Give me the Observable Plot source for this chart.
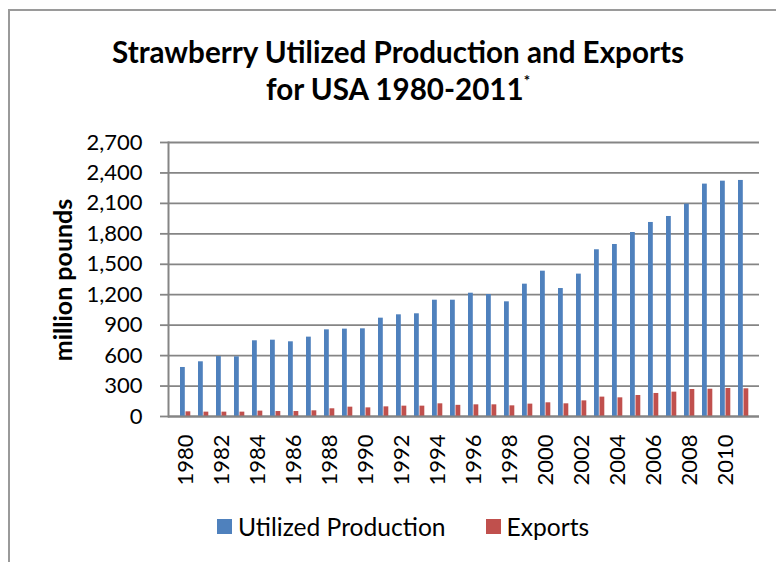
<!DOCTYPE html>
<html>
<head>
<meta charset="utf-8">
<script src="https://cdn.jsdelivr.net/npm/d3@7"></script>
<script src="https://cdn.jsdelivr.net/npm/@observablehq/plot@0.6"></script>
<style>
  html, body { margin: 0; padding: 0; background: #fff; }
  #wrap { position: relative; width: 776px; height: 562px; overflow: hidden; font-family: Lato, "Open Sans", sans-serif; }
  #border { position: absolute; left: 8px; top: 9px; width: 800px; height: 600px; border: 2px solid #9a9a9a; box-sizing: border-box; }
  #title { position: absolute; left: 0; width: 796px; top: 33px; text-align: center; font-weight: bold; font-size: 29.6px; line-height: 37px; color: #000; }
  #title sup { font-size: 15px; vertical-align: top; position: relative; top: -8px; }
  #chart { position: absolute; left: 0; top: 0; }
  #ylabel { position: absolute; left: 62px; top: 280px; transform: translate(-50%, -50%) rotate(-90deg); font-weight: bold; font-size: 25px; white-space: nowrap; }
  #legend { position: absolute; top: 512px; left: 217px; font-size: 24.6px; display: flex; align-items: center; white-space: nowrap; }
  .sw { display: inline-block; width: 15px; height: 15px; margin-right: 6px; }
  .item { display: flex; align-items: center; }
</style>
</head>
<body>
<div id="wrap">
  <div id="border"></div>
  <div id="chart"></div>
  <div id="title">Strawberry Utilized Production and Exports<br>for USA 1980-2011<sup>*</sup></div>
  <div id="ylabel">million pounds</div>
  <div id="legend"></div>
</div>
<script>
const years = [1980,1981,1982,1983,1984,1985,1986,1987,1988,1989,1990,1991,1992,1993,1994,1995,
               1996,1997,1998,1999,2000,2001,2002,2003,2004,2005,2006,2007,2008,2009,2010,2011];
const production = [483,539,591,588,746,752,736,782,854,861,864,969,1002,1012,1146,1146,
                    1215,1202,1130,1304,1432,1261,1403,1643,1695,1813,1912,1971,2093,2290,2319,2326];
const exportsVals = [46,43,43,43,53,49,49,56,76,92,85,95,102,102,125,110,
                     115,115,105,122,135,125,154,191,184,207,227,240,266,269,276,273];
const seriesNames = ["Utilized Production", "Exports"];
const seriesColors = ["#4F81BD", "#C0504D"];
const yTicks = [0,300,600,900,1200,1500,1800,2100,2400,2700];
const xTickLabels = years.filter(y => y % 2 === 0);

const prodData = years.map((y, i) => ({year: y, value: production[i]}));
const expData = years.map((y, i) => ({year: y, value: exportsVals[i]}));

const gridColor = "#858585";

const chart = Plot.plot({
  width: 776,
  height: 562,
  marginLeft: 168,
  marginRight: 17,
  marginTop: 142,
  marginBottom: 146,
  style: {fontFamily: "Lato, 'Open Sans', sans-serif", fontSize: "22px", color: "#000", background: "transparent"},
  x: {type: "band", domain: years, padding: 0},
  y: {domain: [0, 2700]},
  marks: [
    Plot.gridY(yTicks, {stroke: gridColor, strokeOpacity: 1, strokeWidth: 1.8}),
    Plot.barY(prodData, {x: "year", y: "value", fill: seriesColors[0], insetLeft: 4, insetRight: 9.2}),
    Plot.barY(expData, {x: "year", y: "value", fill: seriesColors[1], insetLeft: 9.5, insetRight: 3.7}),
    Plot.ruleY([0], {stroke: gridColor, strokeWidth: 2}),
    Plot.frame({anchor: "left", stroke: gridColor, strokeWidth: 2}),
    Plot.axisY(yTicks, {tickFormat: d => d3.format(",")(d), tickSize: 8, tickPadding: 18, stroke: gridColor, strokeWidth: 1.8, label: null, fontSize: 22}),
    Plot.axisX(xTickLabels, {tickRotate: -90, tickSize: 0, tickPadding: 18, tickFormat: d => String(d), label: null, fontSize: 22})
  ]
});
document.getElementById("chart").appendChild(chart);

const legend = document.getElementById("legend");
seriesNames.forEach((name, i) => {
  const item = document.createElement("span");
  item.className = "item";
  if (i > 0) item.style.marginLeft = "40px";
  const sw = document.createElement("span");
  sw.className = "sw";
  sw.style.background = seriesColors[i];
  item.appendChild(sw);
  item.appendChild(document.createTextNode(name));
  legend.appendChild(item);
});
</script>
</body>
</html>
